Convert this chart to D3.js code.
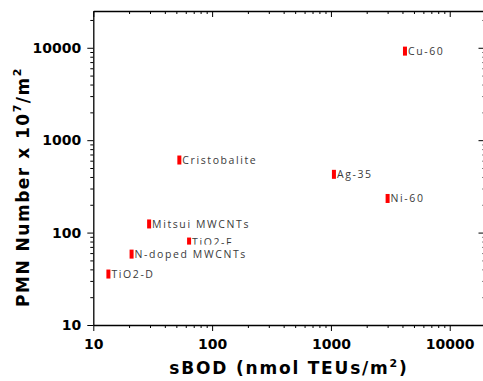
<!DOCTYPE html>
<html>
<head>
<meta charset="utf-8">
<script src="https://cdn.jsdelivr.net/npm/d3@7"></script>
<style>
  body { margin: 0; background: #fff; }
  svg { display: block; }
</style>
</head>
<body>
<script>
var width = 483,
    height = 381;

// data
var names = ["Cu-60", "Cristobalite", "Ag-35", "Ni-60", "Mitsui MWCNTs", "TiO2-F", "N-doped MWCNTs", "TiO2-D"];
var sbod = [4200, 53, 1060, 3000, 29.5, 64, 21, 13.4];
var pmn = [9200, 610, 427, 234, 124, 79, 58.5, 35.6];
var xTicks = [10, 100, 1000, 10000];
var yTicks = [10, 100, 1000, 10000];

var x = d3.scaleLog().domain([10, 20000]).range([93.3, 485.5]);
var y = d3.scaleLog().domain([10, 25000]).range([325, 11]);

function minors(scale) {
    var d = scale.domain(), out = [];
    for (var p = 10; p <= 100000; p *= 10) {
        for (var k = 2; k <= 9; k++) {
            var v = p * k;
            if (v > d[0] && v < d[1]) out.push(v);
        }
    }
    return out;
}

var svg = d3.select("body").append("svg")
    .attr("width", width)
    .attr("height", height);

var tickFont = "'DejaVu Sans', sans-serif";

// bottom axis
svg.append("g").attr("transform", "translate(0,325)")
    .call(d3.axisBottom(x).tickValues(minors(x)).tickSize(3).tickFormat(""))
    .call(g => g.select(".domain").remove());
svg.append("g").attr("transform", "translate(0,325)")
    .call(d3.axisBottom(x).tickValues(xTicks).tickSize(6).tickSizeOuter(0).tickPadding(8).tickFormat(d3.format("d")))
    .call(g => g.selectAll("text").attr("font-size", 14).attr("font-weight", "bold").attr("font-family", tickFont).attr("fill", "#000"));

// top axis (ticks inward)
svg.append("g").attr("transform", "translate(0,11)")
    .call(d3.axisBottom(x).tickValues(minors(x)).tickSize(3).tickFormat(""))
    .call(g => g.select(".domain").remove());
svg.append("g").attr("transform", "translate(0,11)")
    .call(d3.axisBottom(x).tickValues(xTicks).tickSize(6).tickSizeOuter(0).tickFormat(""));

// left axis
svg.append("g").attr("transform", "translate(93.3,0)")
    .call(d3.axisLeft(y).tickValues(minors(y)).tickSize(3).tickFormat(""))
    .call(g => g.select(".domain").remove());
svg.append("g").attr("transform", "translate(93.3,0)")
    .call(d3.axisLeft(y).tickValues(yTicks).tickSize(6).tickSizeOuter(0).tickPadding(6).tickFormat(d3.format("d")))
    .call(g => g.selectAll("text").attr("font-size", 14).attr("font-weight", "bold").attr("font-family", tickFont).attr("fill", "#000"));

// right axis (ticks inward)
svg.append("g").attr("transform", "translate(485.5,0)")
    .call(d3.axisLeft(y).tickValues(minors(y)).tickSize(3).tickFormat(""))
    .call(g => g.select(".domain").remove());
svg.append("g").attr("transform", "translate(485.5,0)")
    .call(d3.axisLeft(y).tickValues(yTicks).tickSize(7).tickSizeOuter(0).tickFormat(""));

svg.selectAll(".tick line").attr("stroke", "#000");
svg.selectAll(".domain").attr("stroke", "#000").attr("stroke-width", 1.3);

// points with labels
var pts = names.map(function(n, i) { return {name: n, x: sbod[i], y: pmn[i]}; });
// TiO2-F drawn before N-doped so the latter's label box cuts it, as in the original
pts.forEach(function(d) {
    var g = svg.append("g");
    var cx = x(d.x), cy = y(d.y);
    var bg = g.append("rect").attr("fill", "#fff");
    g.append("rect")
        .attr("x", cx - 2).attr("y", cy - 4.5)
        .attr("width", 4).attr("height", 9)
        .attr("fill", "#ff0000");
    var t = g.append("text")
        .attr("x", cx + 3).attr("y", cy + 4)
        .attr("font-family", "'Open Sans', sans-serif")
        .attr("font-size", 10.5)
        .attr("letter-spacing", 1.6)
        .attr("fill", "#3a3a3a")
        .text(d.name);
    if (d.name === "N-doped MWCNTs") {
        var b = t.node().getBBox();
        bg.attr("x", cx - 3).attr("y", cy - 9.5)
          .attr("width", b.width + 8).attr("height", 17);
    }
});

// axis titles
svg.append("text")
    .attr("x", 289).attr("y", 374)
    .attr("text-anchor", "middle")
    .attr("font-family", tickFont)
    .attr("font-weight", "bold")
    .attr("font-size", 17)
    .attr("letter-spacing", 1.8)
    .attr("fill", "#000")
    .call(function(t) {
        t.append("tspan").text("sBOD (nmol TEUs/m");
        t.append("tspan").attr("dy", -7).attr("font-size", 11).text("2");
        t.append("tspan").attr("dy", 7).text(")");
    });

svg.append("text")
    .attr("transform", "translate(29,187) rotate(-90)")
    .attr("text-anchor", "middle")
    .attr("font-family", tickFont)
    .attr("font-weight", "bold")
    .attr("font-size", 17)
    .attr("letter-spacing", 1.5)
    .attr("fill", "#000")
    .call(function(t) {
        t.append("tspan").text("PMN Number x 10");
        t.append("tspan").attr("dy", -8).attr("font-size", 11).text("7");
        t.append("tspan").attr("dy", 8).text("/m");
        t.append("tspan").attr("dy", -8).attr("font-size", 11).text("2");
    });
</script>
</body>
</html>
